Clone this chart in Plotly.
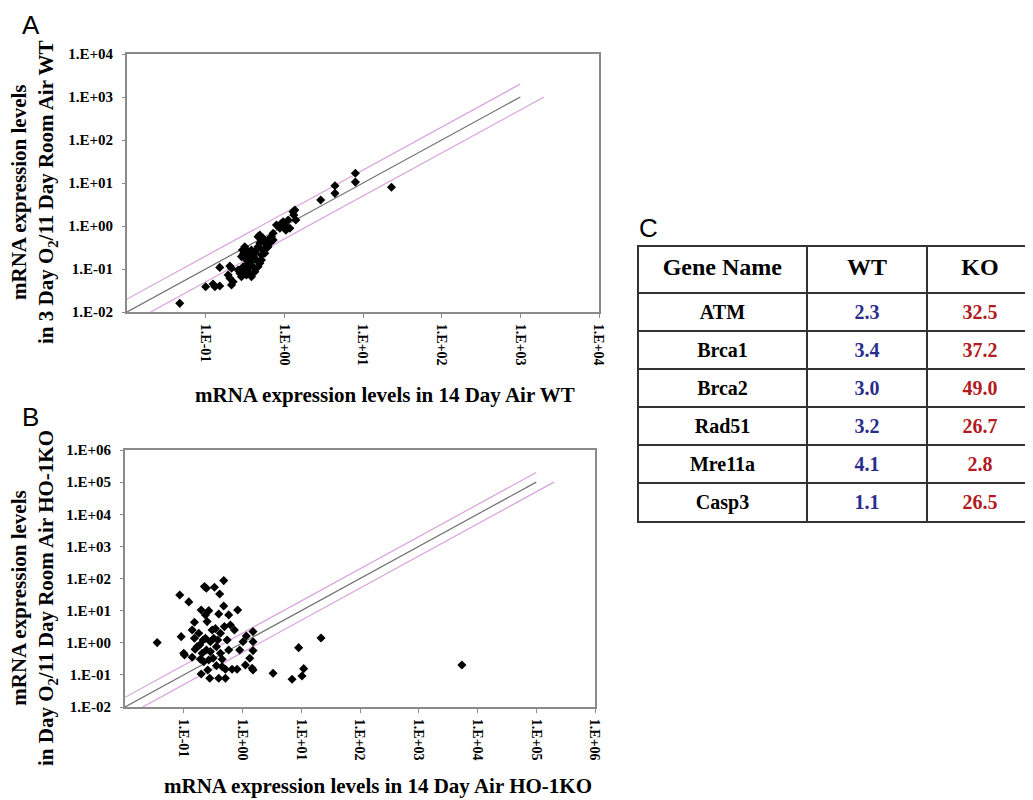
import plotly.graph_objects as go

# ---------------- data ----------------
# Panel A: 14 Day Air WT (x) vs 3 Day O2/11 Day Room Air WT (y)
A_x = [0.0468, 0.100, 0.124, 0.131, 0.151, 0.151, 0.203, 0.213, 0.193, 0.203,
       0.213, 0.223, 0.258, 0.272, 0.285, 0.299, 0.314, 0.330, 0.347, 0.364,
       0.382, 0.299, 0.294, 0.314, 0.305, 0.330, 0.347, 0.364, 0.382, 0.401,
       0.422, 0.443, 0.463, 0.488, 0.512, 0.463, 0.488, 0.537, 0.564, 0.593,
       0.443, 0.488, 0.463, 0.512, 0.537, 0.593, 0.622, 0.653, 0.687, 0.794,
       0.877, 0.920, 0.966, 1.067, 1.12, 1.175, 1.29, 1.36, 1.32, 1.40,
       1.045, 2.9, 4.4, 4.4, 8.0, 8.0, 23.0, 0.285, 0.330, 0.364,
       0.401, 0.422, 0.512, 0.564, 0.622, 0.721, 0.721, 0.382, 0.347]
A_y = [0.0159, 0.0387, 0.0448, 0.0387, 0.0403, 0.109, 0.117, 0.104, 0.0724, 0.0608,
       0.0425, 0.0507, 0.0948, 0.0794, 0.0662, 0.113, 0.0865, 0.0724, 0.104, 0.0794,
       0.0662, 0.212, 0.277, 0.330, 0.232, 0.162, 0.136, 0.124, 0.148, 0.194,
       0.232, 0.277, 0.330, 0.403, 0.472, 0.565, 0.618, 0.516, 0.432, 0.361,
       0.162, 0.136, 0.113, 0.212, 0.277, 0.303, 0.472, 0.403, 0.565, 1.05,
       0.883, 1.155, 1.26, 0.964, 1.38, 0.883, 2.15, 2.36, 1.80, 1.38,
       0.80, 4.03, 8.65, 5.75, 16.8, 10.5, 7.94, 0.194, 0.277, 0.212,
       0.113, 0.0865, 0.162, 0.232, 0.330, 0.472, 0.676, 0.277, 0.177]

# Panel B: 14 Day Air HO-1KO (x) vs Day O2/11 Day Room Air HO-1KO (y)
B_x = [0.0353, 0.0855, 0.122, 0.0904, 0.100, 0.103, 0.139, 0.139, 0.152, 0.152,
       0.156, 0.180, 0.187, 0.192, 0.198, 0.198, 0.214, 0.225, 0.243, 0.234,
       0.243, 0.250, 0.256, 0.266, 0.266, 0.277, 0.304, 0.316, 0.333, 0.346,
       0.360, 0.378, 0.394, 0.409, 0.394, 0.421, 0.450, 0.479, 0.479, 0.492,
       0.512, 0.512, 0.547, 0.582, 0.582, 0.622, 0.665, 0.728, 0.828, 0.809,
       0.895, 1.02, 1.12, 1.16, 1.33, 1.46, 1.51, 1.51, 1.51, 1.51,
       3.31, 6.98, 9.03, 10.3, 11.0, 21.7, 0.169, 0.206, 0.219, 0.284,
       0.324, 0.360, 0.421, 0.450, 0.284, 0.234, 5430.0]
B_y = [1.01, 30.8, 18.7, 1.55, 0.471, 0.417, 2.5, 0.353, 4.35, 1.38,
       0.627, 1.98, 0.853, 0.306, 10.5, 0.107, 1.22, 56.0, 49.8, 7.35,
       0.597, 4.55, 0.142, 10.0, 0.291, 0.0782, 2.5, 0.328, 53.5, 2.75,
       0.194, 1.22, 7.89, 33.1, 0.0782, 0.471, 0.306, 86.1, 14.0, 3.18,
       0.0782, 0.149, 1.22, 7.35, 0.597, 3.58, 0.149, 2.5, 10.5, 0.149,
       0.597, 1.08, 0.203, 1.63, 0.328, 0.160, 0.142, 2.22, 1.08, 0.569,
       0.112, 0.0728, 0.705, 0.0925, 0.156, 1.41, 0.757, 0.471, 0.258, 0.530,
       1.38, 0.757, 1.98, 0.180, 1.08, 1.38, 0.203]

# Reference lines: y = x, y = 2x, y = x/2 over the span t
A_span = [0.01, 1000.0]
B_span = [0.01, 100000.0]
fold = 2.0

# Ticks
A_xticks = [0.1, 1, 10, 100, 1000, 10000]
A_xlabels = ["1.E-01", "1.E+00", "1.E+01", "1.E+02", "1.E+03", "1.E+04"]
A_yticks = [0.01, 0.1, 1, 10, 100, 1000, 10000]
A_ylabels = ["1.E-02", "1.E-01", "1.E+00", "1.E+01", "1.E+02", "1.E+03", "1.E+04"]
B_xticks = [0.1, 1, 10, 100, 1000, 10000, 100000, 1000000]
B_xlabels = ["1.E-01", "1.E+00", "1.E+01", "1.E+02", "1.E+03", "1.E+04", "1.E+05", "1.E+06"]
B_yticks = [0.01, 0.1, 1, 10, 100, 1000, 10000, 100000, 1000000]
B_ylabels = ["1.E-02", "1.E-01", "1.E+00", "1.E+01", "1.E+02", "1.E+03", "1.E+04", "1.E+05", "1.E+06"]

# Table C
genes = ["ATM", "Brca1", "Brca2", "Rad51", "Mre11a", "Casp3"]
wt_vals = [2.3, 3.4, 3.0, 3.2, 4.1, 1.1]
ko_vals = [32.5, 37.2, 49.0, 26.7, 2.8, 26.5]
table_header = ["Gene Name", "WT", "KO"]

# ---------------- layout helpers ----------------
# The page body keeps an 8px default margin, so the figure is sized to fill
# the remaining window and positions are given in window pixels.
OFF = 8
W, H = 1033 - OFF, 800 - OFF
def px(x):
    return (x - OFF) / W
def py(y):
    return 1 - (y - OFF) / H

SERIF = "Liberation Serif, Times New Roman, serif"
SANS = "Liberation Sans, Arial, sans-serif"
GRAY = "#707070"
PINK = "#d7a3dc"
FRAME = "#8a8a8a"

fig = go.Figure()

def add_panel(xs, ys, span, xa, ya):
    t = span
    fig.add_trace(go.Scatter(x=t, y=[v * fold for v in t], mode="lines",
                             line=dict(color=PINK, width=1.2), xaxis=xa, yaxis=ya,
                             showlegend=False, hoverinfo="skip"))
    fig.add_trace(go.Scatter(x=[v * fold for v in t], y=t, mode="lines",
                             line=dict(color=PINK, width=1.2), xaxis=xa, yaxis=ya,
                             showlegend=False, hoverinfo="skip"))
    fig.add_trace(go.Scatter(x=t, y=t, mode="lines",
                             line=dict(color=GRAY, width=1.2), xaxis=xa, yaxis=ya,
                             showlegend=False, hoverinfo="skip"))
    fig.add_trace(go.Scatter(x=xs, y=ys, mode="markers",
                             marker=dict(symbol="diamond", size=7, color="black"),
                             xaxis=xa, yaxis=ya, showlegend=False))

add_panel(A_x, A_y, A_span, "x", "y")
add_panel(B_x, B_y, B_span, "x2", "y2")

xtickfont = dict(family=SERIF, size=14, color="black", weight="bold")
ytickfont = dict(family=SERIF, size=15, color="black", weight="bold")

def xaxis_cfg(dom, rng, tv, tt):
    return dict(type="log", domain=dom, range=rng, tickvals=tv, ticktext=tt,
                tickangle=90, ticks="outside", ticklen=4, tickcolor=FRAME,
                showline=True, linecolor=FRAME, linewidth=2, mirror=True,
                showgrid=False, zeroline=False, tickfont=xtickfont,
                ticklabelstandoff=3, automargin=False, fixedrange=True)

def yaxis_cfg(dom, rng, tv, tt):
    return dict(type="log", domain=dom, range=rng, tickvals=tv, ticktext=tt,
                ticks="outside", ticklen=3, tickcolor=FRAME,
                showline=True, linecolor=FRAME, linewidth=2, mirror=True,
                showgrid=False, zeroline=False, tickfont=ytickfont,
                ticklabelstandoff=6, automargin=False, fixedrange=True)

fig.update_layout(
    width=W, height=H,
    margin=dict(l=0, r=0, t=0, b=0),
    paper_bgcolor="white", plot_bgcolor="white",
    xaxis=xaxis_cfg([px(127), px(599)], [-2, 4], A_xticks, A_xlabels),
    yaxis=yaxis_cfg([py(312), py(54)], [-2, 4], A_yticks, A_ylabels),
    xaxis2=xaxis_cfg([px(125), px(595)], [-2, 6], B_xticks, B_xlabels),
    yaxis2=yaxis_cfg([py(707), py(450)], [-2, 6], B_yticks, B_ylabels),
)
fig.layout.xaxis2.anchor = "y2"
fig.layout.yaxis2.anchor = "x2"

# Table C
blue = "#2b2d8c"
red = "#b31b22"
fig.add_trace(go.Table(
    domain=dict(x=[px(638), 1.0], y=[py(540), py(246)]),
    columnwidth=[169, 120, 106],
    header=dict(values=["<b>%s</b>" % h for h in table_header],
                align="center", height=47,
                font=dict(family=SERIF, size=24, color="black"),
                line=dict(color="#333333", width=2), fill=dict(color="white")),
    cells=dict(values=[["<b>%s</b>" % g for g in genes],
                       ["<b>%.1f</b>" % v for v in wt_vals],
                       ["<b>%.1f</b>" % v for v in ko_vals]],
               align="center", height=37,
               font=dict(family=SERIF, size=20,
                         color=[["black"] * len(genes), [blue] * len(genes), [red] * len(genes)]),
               line=dict(color="#333333", width=2), fill=dict(color="white")),
))

titlefont = dict(family=SERIF, size=21, color="black", weight="bold")
ann = []
# Axis titles
ann.append(dict(x=px(385), y=py(395), text="mRNA expression levels in 14 Day Air WT",
                font=titlefont, showarrow=False, xanchor="center", yanchor="middle"))
ann.append(dict(x=px(34), y=py(192),
                text="mRNA expression levels<br>in 3 Day O<sub>2</sub>/11 Day Room Air WT",
                font=titlefont, showarrow=False, textangle=-90, xanchor="center", yanchor="middle"))
ann.append(dict(x=px(378), y=py(786), text="mRNA expression levels in 14 Day Air HO-1KO",
                font=titlefont, showarrow=False, xanchor="center", yanchor="middle"))
ann.append(dict(x=px(34), y=py(598),
                text="mRNA expression levels<br>in Day O<sub>2</sub>/11 Day Room Air HO-1KO",
                font=titlefont, showarrow=False, textangle=-90, xanchor="center", yanchor="middle"))
# Panel letters
letterfont = dict(family=SANS, size=26, color="black")
for lab, lx, ly in [("A", 20, 25), ("B", 20, 417), ("C", 637, 228)]:
    ann.append(dict(x=px(lx), y=py(ly), text=lab, font=letterfont, showarrow=False,
                    xanchor="left", yanchor="middle"))
for a in ann:
    a["xref"] = "paper"
    a["yref"] = "paper"
fig.update_layout(annotations=ann)

fig.write_html("out.html")
